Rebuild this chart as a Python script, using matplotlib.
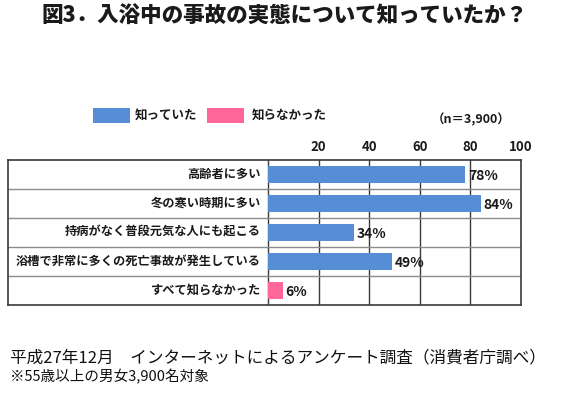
import matplotlib
matplotlib.use("Agg")
import matplotlib.pyplot as plt
from matplotlib.patches import Rectangle

plt.rcParams['font.family'] = ['Noto Sans CJK JP', 'DejaVu Sans']

categories = ["高齢者に多い", "冬の寒い時期に多い", "持病がなく普段元気な人にも起こる",
              "浴槽で非常に多くの死亡事故が発生している", "すべて知らなかった"]
values = [78, 84, 34, 49, 6]
groups = ["知っていた", "知っていた", "知っていた", "知っていた", "知らなかった"]
legend_labels = ["知っていた", "知らなかった"]
xticks = [20, 40, 60, 80, 100]

colors = {"知っていた": "#558ED5", "知らなかった": "#FF6699"}
W, H = 570, 395
fig = plt.figure(figsize=(W / 100, H / 100), dpi=100)

# axes: spans label column + plot area; 0 at x=268px, 100 at x=521px
left_px, right_px, top_px, bot_px = 7.5, 521, 160, 305
zero_px = 268
ppu = (right_px - zero_px) / 100.0
xmin = -(zero_px - left_px) / ppu
ax = fig.add_axes([left_px / W, 1 - bot_px / H, (right_px - left_px) / W, (bot_px - top_px) / H])
ax.set_xlim(xmin, 100)
n = len(categories)
ax.set_ylim(n, 0)

for i, (c, v, g) in enumerate(zip(categories, values, groups)):
    ax.barh(i + 0.5, v, height=0.58, left=0, color=colors[g], zorder=3)
    ax.text(v + 1.0, i + 0.55, f"{v}%", ha='left', va='center', fontsize=10,
            fontweight='bold', color='#1a1a1a', zorder=4)
    ax.text(-2.8, i + 0.5, c, ha='right', va='center', fontsize=8.8,
            fontweight='bold', color='#1a1a1a')

for x in [0] + xticks[:-1]:
    ax.axvline(x, color='#3a3a3a', lw=1.0, zorder=2)
for y in range(1, n):
    ax.axhline(y, color='#8c8c8c', lw=1.0, zorder=2)
for s in ax.spines.values():
    s.set_color('#3a3a3a')
    s.set_linewidth(1.2)

ax.xaxis.tick_top()
ax.set_xticks(xticks)
ax.set_xticklabels([str(t) for t in xticks], fontsize=9.5, fontweight='bold', color='#1a1a1a')
ax.tick_params(axis='x', length=0, pad=4)
ax.set_yticks([])

# title
fig.text(285 / W, 1 - 16 / H, "図3．入浴中の事故の実態について知っていたか？", ha='center', va='center',
         fontsize=15.5, fontweight='black', color='#1a1a1a')

# legend
for (x0, lbl, tx) in [(93, legend_labels[0], 135), (207, legend_labels[1], 252)]:
    fig.add_artist(Rectangle((x0 / W, 1 - 123 / H), 37 / W, 15 / H, transform=fig.transFigure,
                             facecolor=colors[lbl], edgecolor='none'))
    fig.text(tx / W, 1 - 115 / H, lbl, ha='left', va='center', fontsize=9,
             fontweight='bold', color='#1a1a1a')
fig.text(432 / W, 1 - 120 / H, "（n＝3,900）", ha='left', va='center', fontsize=9,
         fontweight='bold', color='#1a1a1a')

# footer
fig.text(10 / W, 1 - 358 / H, "平成27年12月　インターネットによるアンケート調査（消費者庁調べ）",
         ha='left', va='center', fontsize=12, color='#111111')
fig.text(10 / W, 1 - 377 / H, "※55歳以上の男女3,900名対象", ha='left', va='center',
         fontsize=10.5, color='#111111')

fig.savefig("out.png", dpi=100)
